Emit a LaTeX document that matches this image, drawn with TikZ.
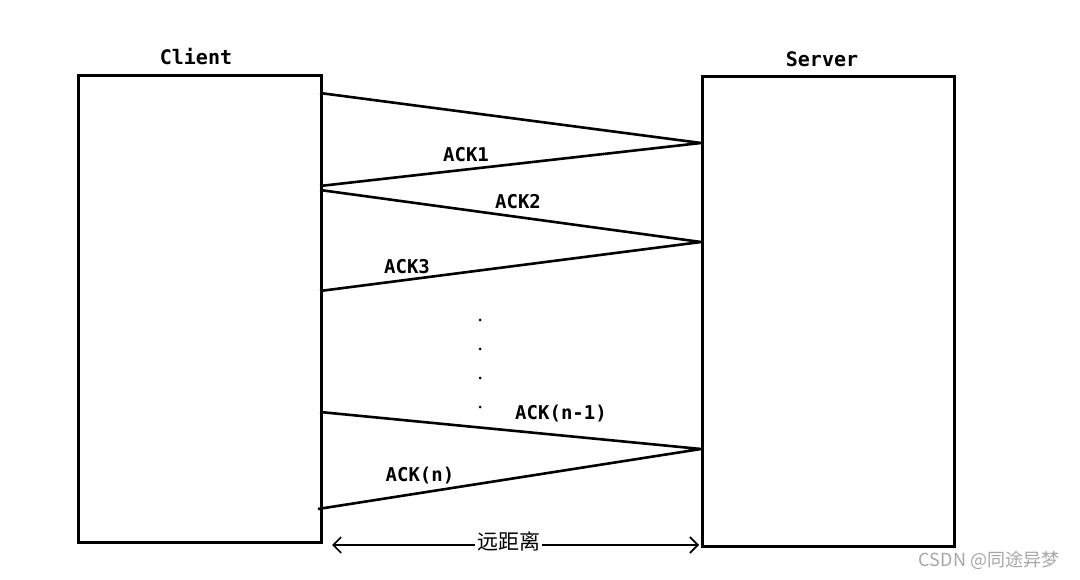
\documentclass[tikz,border=0pt]{standalone}
\usepackage{fontspec}
\setmonofont{DejaVu Sans Mono}
\newfontfamily\cjk{Noto Sans CJK SC}
\usetikzlibrary{arrows.meta}
\tikzset{
  hostbox/.style={draw, line width=3pt, rectangle, inner sep=0pt, anchor=north west},
  msg/.style={line width=2.6pt, line join=bevel},
  acklabel/.style={font=\fontsize{19}{22}\ttfamily\bfseries},
  hostlabel/.style={font=\fontsize{20}{24}\ttfamily\bfseries},
}
\begin{document}
\begin{tikzpicture}[x=1pt, y=-1pt]
    \useasboundingbox (0, 0) rectangle (1080, 580);

    % 两端
    \node[hostbox, minimum width=243pt, minimum height=467pt] (client) at (77, 74) {};
    \node[hostbox, minimum width=252pt, minimum height=470pt] (server) at (701, 75) {};
    \node[hostlabel] (clientlbl) at (196, 57) {Client};
    \node[hostlabel] (serverlbl) at (822, 59) {Server};

    % 报文端点
    \coordinate (c1) at (320, 93);
    \coordinate (c2) at (320, 186);
    \coordinate (c3) at (320, 190);
    \coordinate (c4) at (320, 291);
    \coordinate (c5) at (320, 412);
    \coordinate (c6) at (318, 509);
    \coordinate (s1) at (701, 143);
    \coordinate (s2) at (701, 242);
    \coordinate (s3) at (701, 449);

    % 来回
    \draw[msg] (c1) -- (s1) -- (c2);
    \draw[msg] (c3) -- (s2) -- (c4);
    \draw[msg] (c5) -- (s3) -- (c6);

    \node[acklabel] (ack1) at (466, 155) {ACK1};
    \node[acklabel] (ack2) at (518, 202) {ACK2};
    \node[acklabel] (ack3) at (407, 267) {ACK3};
    \node[acklabel] (ackn1) at (561, 414) {ACK(n-1)};
    \node[acklabel] (ackn) at (420, 476) {ACK(n)};

    % 省略
    \foreach \y in {320, 349, 378, 407}
        \fill (480, \y) circle (1.5pt);

    % 距离
    \coordinate (dl) at (332, 545);
    \coordinate (dr) at (699, 545);
    \draw[line width=1.6pt, {Straight Barb[length=8pt, width=16pt]}-{Straight Barb[length=8pt, width=16pt]}] (dl) -- (dr)
        node[midway, xshift=-7pt, yshift=4pt, fill=white, inner sep=2pt, font=\fontsize{21}{24}\cjk] (dist) {远距离};

    \node[text=gray!70, font=\fontsize{18}{21}\cjk] (mark) at (989, 560) {CSDN @同途异梦};
\end{tikzpicture}
\end{document}
